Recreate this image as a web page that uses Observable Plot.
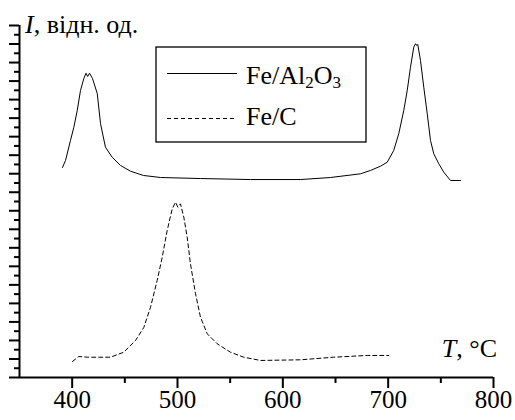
<!DOCTYPE html>
<html><head><meta charset="utf-8">
<script src="https://cdn.jsdelivr.net/npm/d3@7"></script>
<script src="https://cdn.jsdelivr.net/npm/@observablehq/plot@0.6"></script>
<style>
body{margin:0;background:#fff;}
#wrap{width:515px;height:420px;}
svg text{font-family:"Liberation Serif","Times New Roman",serif !important;}
</style></head><body><div id="wrap"></div>
<script>
// Fe/Al2O3 (solid)
const alT = [390.8,393.7,398.4,401.6,404.8,407.9,411.0,413.1,414.7,416.5,419.3,423.8,426.9,431.6,438.0,445.9,455.4,467.7,483.9,521.8,569.3,616.8,645.3,673.7,683.2,692.7,699.1,705.3,710.1,714.8,718.1,721.2,724.3,726.0,727.2,728.1,730.7,733.8,737.1,740.2,743.3,748.1,752.8,759.2,768.7];
const alI = [22.67,23.43,25.59,27.02,28.82,30.98,32.25,32.85,32.50,32.85,32.28,30.66,27.42,24.86,23.78,22.89,22.27,21.81,21.59,21.48,21.37,21.37,21.59,21.99,22.35,22.81,23.24,24.51,26.34,28.82,30.98,33.50,35.66,36.03,35.84,35.95,34.22,31.34,28.47,25.59,24.15,23.07,22.16,21.27,21.27];
// Fe/C (dashed)
const cT = [400.3,406.3,414.3,436.4,449.0,460.1,468.0,474.4,480.7,485.5,490.2,495.0,498.1,500.3,502.8,506.0,509.2,512.3,517.1,521.8,528.2,537.7,550.3,562.9,578.8,616.8,648.1,680.1,700.6];
const cI = [1.73,2.27,2.19,2.19,2.73,3.99,5.40,7.59,10.47,12.99,15.87,18.21,18.93,18.39,18.75,17.31,15.15,12.27,9.04,6.51,4.72,3.64,2.73,2.19,1.84,1.91,2.19,2.38,2.38];
const xMajor = [400,500,600,700,800];
const xMinor = [450,550,650,750];
const yLong = [0,2,4,6,8,10,12,14,16,18,20,22,24,26,28,30,32,34,36,38];
const yShort = [1,3,5,7,9,11,13,15,17,19,21,23,25,27,29,31,33,35,37];
const seriesNames = ["Fe/Al", "O", "Fe/C"];

const alData = alT.map((t,i)=>({T:t, I:alI[i]}));
const cData = cT.map((t,i)=>({T:t, I:cI[i]}));
const FONT = "'Liberation Serif', 'Times New Roman', serif";
const FS = 25;

const chart = Plot.plot({
  width:515, height:420,
  marginLeft:19, marginRight:22, marginTop:25, marginBottom:43,
  x:{domain:[350,800]}, y:{domain:[0,38]},
  style:{fontFamily:FONT, fontSize:FS+"px", color:"#000", background:"#fff", overflow:"visible"},
  marks:[
    Plot.axisX(xMajor,{tickSize:11, tickPadding:2, strokeWidth:2, fontSize:FS, label:null}),
    Plot.axisX(xMinor,{tickSize:6, strokeWidth:2, tickFormat:()=>"", label:null}),
    Plot.axisY(yLong,{tickSize:10, strokeWidth:2, tickFormat:()=>"", label:null}),
    Plot.axisY(yShort,{tickSize:5, strokeWidth:2, tickFormat:()=>"", label:null}),
    Plot.ruleY([0],{stroke:"#000", strokeWidth:2}),
    Plot.ruleX([350],{stroke:"#000", strokeWidth:2}),
    Plot.line(alData,{x:"T", y:"I", stroke:"#000", strokeWidth:1}),
    Plot.line(cData,{x:"T", y:"I", stroke:"#000", strokeWidth:1, strokeDasharray:"4,3"})
  ]
});
document.getElementById("wrap").appendChild(chart);

const svg = d3.select(chart);
const g = svg.append("g").attr("fill","#000").attr("text-anchor","start");
// y axis label
const yl = g.append("text").attr("x",25).attr("y",33).attr("font-size",FS+1);
yl.append("tspan").attr("font-style","italic").text("I");
yl.append("tspan").text(", відн. од.");
// x axis label
const xl = g.append("text").attr("x",497).attr("y",357).attr("font-size",FS+1).attr("text-anchor","end");
xl.append("tspan").attr("font-style","italic").text("T");
xl.append("tspan").text(", °C");
// legend
const lg = svg.append("g").attr("text-anchor","start").attr("fill","#000");
lg.append("rect").attr("x",156).attr("y",47).attr("width",210).attr("height",95)
  .attr("fill","#fff").attr("stroke","#000").attr("stroke-width",1.3);
lg.append("line").attr("x1",167).attr("x2",237).attr("y1",73.5).attr("y2",73.5).attr("stroke","#000");
lg.append("line").attr("x1",167).attr("x2",237).attr("y1",118.5).attr("y2",118.5).attr("stroke","#000").attr("stroke-dasharray","4,3");
const t1 = lg.append("text").attr("x",246).attr("y",84).attr("font-size",FS+1);
t1.append("tspan").text(seriesNames[0]);
t1.append("tspan").attr("font-size",17).attr("dy",4).text("2");
t1.append("tspan").attr("font-size",FS+1).attr("dy",-4).text(seriesNames[1]);
t1.append("tspan").attr("font-size",17).attr("dy",4).text("3");
lg.append("text").attr("x",246).attr("y",125).attr("font-size",FS+1).text(seriesNames[2]);
</script>
</body></html>
